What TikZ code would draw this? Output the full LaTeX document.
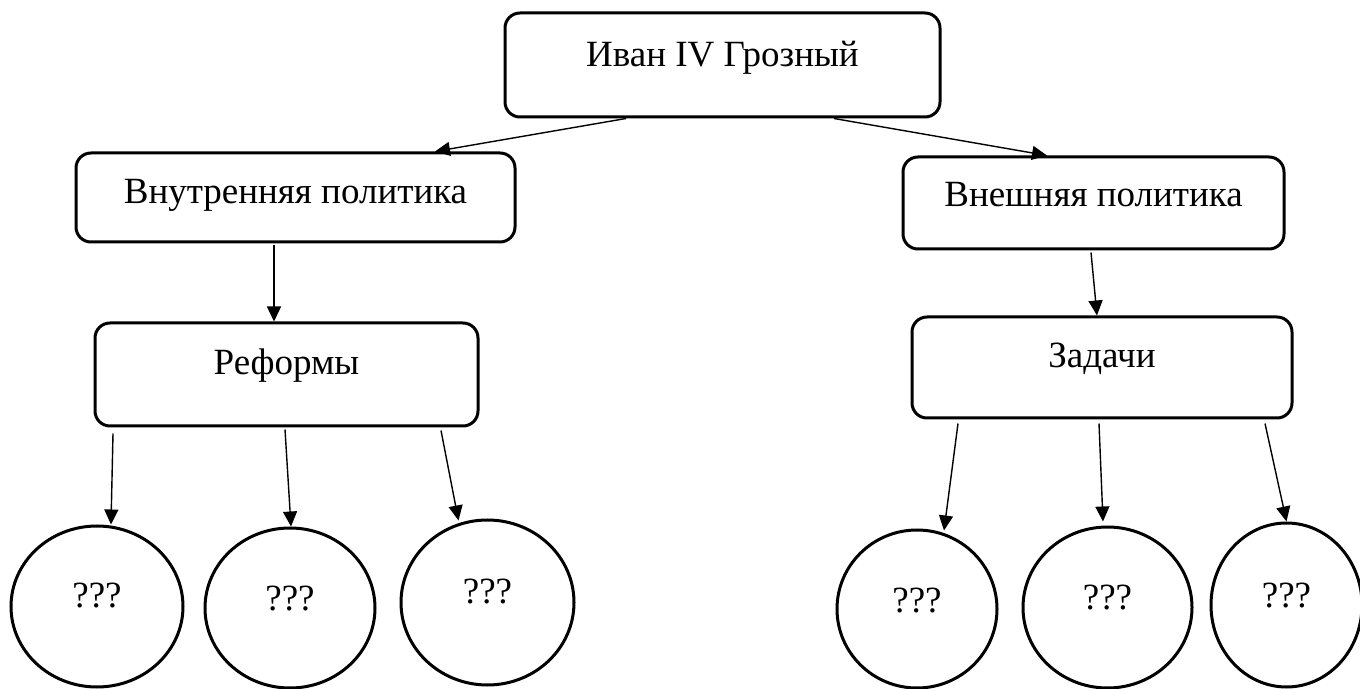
\documentclass[tikz,border=0pt]{standalone}
\usepackage{fontspec}
\setmainfont{Liberation Serif}
\usetikzlibrary{arrows.meta,shapes.geometric}
\begin{document}
\begin{tikzpicture}[x=0.5pt,y=-0.5pt,
  box/.style={draw,line width=1.5pt,rounded corners=7.5pt,inner sep=0pt,
    text height=12.25pt,text depth=#1,font=\fontsize{18.5}{22}\selectfont},
  box/.default=11pt,
  circ/.style={draw,ellipse,line width=1.5pt,inner sep=0pt,
    text height=12.25pt,text depth=#1,font=\fontsize{18.5}{22}\selectfont},
  circ/.default=10pt,
  arr/.style={-{Triangle[length=7.5pt,width=7pt]},line width=0.7pt}]
\useasboundingbox (0,0) rectangle (1360,689);
\node[box=11pt,minimum width=217.5pt,minimum height=52pt] (ivan) at (722.5,65) {Иван IV Грозный};
\node[box=6.5pt,minimum width=219.5pt,minimum height=44.5pt] (inner) at (295.5,197.5) {Внутренняя политика};
\node[box=9pt,minimum width=190.5pt,minimum height=46pt] (outer) at (1093.5,203) {Внешняя политика};
\node[box=12pt,minimum width=191.5pt,minimum height=51.5pt] (reform) at (286.5,374.5) {Реформы};
\node[box=12pt,minimum width=190pt,minimum height=50.5pt] (tasks) at (1102,367.5) {Задачи};
\node[circ=11pt,minimum width=86pt,minimum height=80.5pt] (c1) at (97,606.5) {???};
\node[circ=10pt,minimum width=85pt,minimum height=80pt] (c2) at (290,608) {???};
\node[circ=11pt,minimum width=86.5pt,minimum height=82.5pt] (c3) at (487.5,602.5) {???};
\node[circ=9pt,minimum width=80pt,minimum height=79pt] (c4) at (917,609) {???};
\node[circ=10pt,minimum width=84.5pt,minimum height=80.5pt] (c5) at (1107.5,607.5) {???};
\node[circ=10pt,minimum width=75.5pt,minimum height=82pt] (c6) at (1286.5,605) {???};
\draw[arr] ([xshift=-48.25pt]ivan.south) -- ([xshift=69.75pt]inner.north);
\draw[arr] ([xshift=55.75pt]ivan.south) -- ([xshift=-23.25pt]outer.north);
\draw[arr] ([xshift=-10.75pt,yshift=-1pt]inner.south) -- ([xshift=-6.25pt]reform.north);
\draw[arr] ([xshift=-1.25pt,yshift=-1pt]outer.south) -- ([xshift=-2.5pt]tasks.north);
\draw[arr] ([xshift=-86.75pt,yshift=-3pt]reform.south) -- ([xshift=7pt]c1.north);
\draw[arr] ([xshift=-0.75pt,yshift=-1pt]reform.south) -- ([xshift=0.5pt]c2.north);
\draw[arr] ([xshift=77.25pt,yshift=-1.5pt]reform.south) -- ([xshift=-14.5pt,yshift=-1pt]c3.north);
\draw[arr] ([xshift=-72pt,yshift=-2pt]tasks.south) -- ([xshift=13.5pt,yshift=-1pt]c4.north);
\draw[arr] ([xshift=-1.5pt,yshift=-2pt]tasks.south) -- ([xshift=-2.25pt,yshift=2pt]c5.north);
\draw[arr] ([xshift=81.5pt,yshift=-2pt]tasks.south) -- (c6.north);
\end{tikzpicture}
\end{document}
